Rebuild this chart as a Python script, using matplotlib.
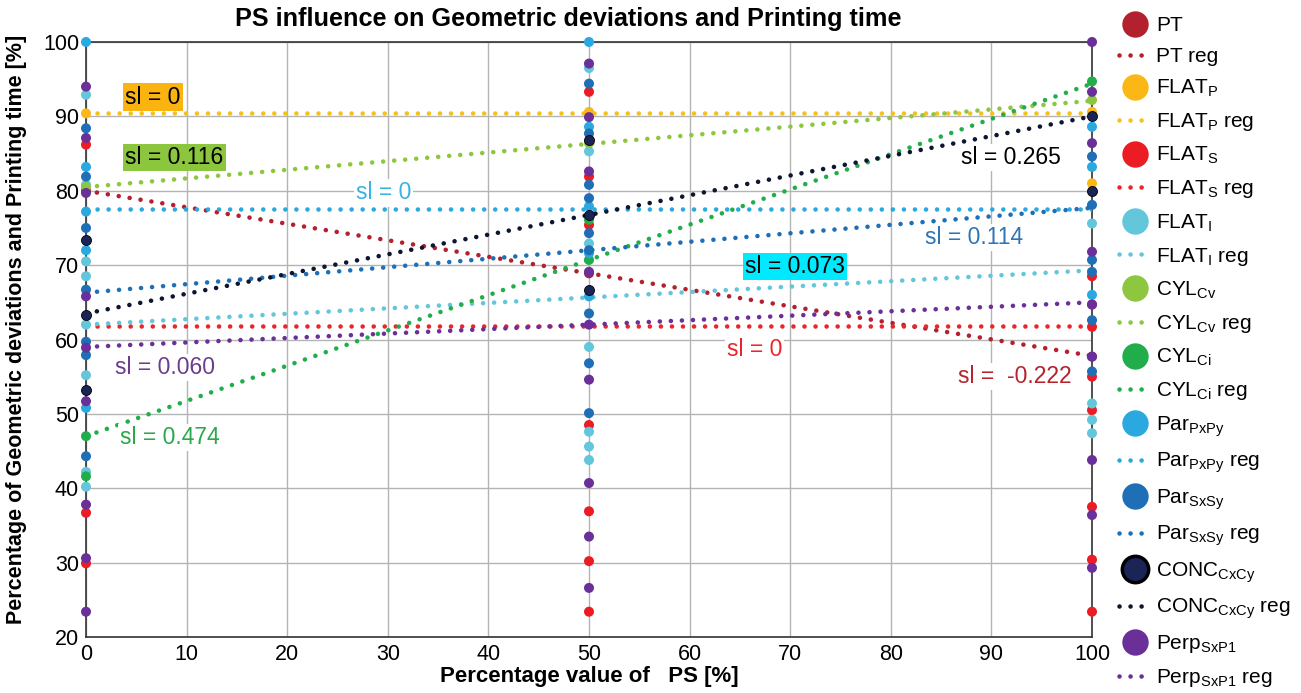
import matplotlib.pyplot as plt
from matplotlib.lines import Line2D
import numpy as np

plt.rcParams['font.family'] = ['Liberation Sans', 'DejaVu Sans']
plt.rcParams['mathtext.fontset'] = 'custom'
plt.rcParams['mathtext.rm'] = 'Liberation Sans'
plt.rcParams['mathtext.it'] = 'Liberation Sans:italic'
plt.rcParams['mathtext.bf'] = 'Liberation Sans:bold'

# PS levels [%]
ps_levels = [0, 50, 100]

pt_vals = [[80.0], [68.9], [57.7]]
flat_p_vals = [[90.4], [90.6], [90.6, 81.0]]
flat_s_vals = [[86.2, 36.7, 29.9], [93.3, 81.9, 75.4, 48.5, 36.9, 30.2, 23.4],
               [68.5, 64.7, 61.7, 55.0, 50.5, 37.5, 30.4, 23.4]]
flat_i_vals = [[92.9, 80.8, 70.5, 68.5, 62.0, 55.2, 42.2, 40.2],
               [96.5, 85.3, 72.9, 59.0, 47.6, 45.6, 43.8],
               [75.6, 51.4, 49.2, 47.4]]
cyl_cv_vals = [[80.5], [86.4], [92.2]]
cyl_ci_vals = [[47.0, 41.6], [70.7, 76.1], [94.7]]
par_pxpy_vals = [[100.0, 83.2, 77.2, 72.0, 50.8], [100.0, 88.6, 77.9, 71.6, 65.8],
                 [88.6, 83.2, 66.0]]
par_sxsy_vals = [[88.4, 81.9, 75.0, 66.7, 59.7, 57.9, 44.3],
                 [94.4, 87.7, 80.8, 79.0, 74.3, 72.0, 63.5, 56.8, 50.1],
                 [84.6, 78.1, 70.7, 69.1, 62.6, 55.7]]
conc_vals = [[73.4, 63.3, 53.2], [86.8, 76.7, 66.7], [90.0, 79.9]]
perp_vals = [[94.0, 87.1, 79.7, 65.8, 58.9, 51.7, 37.8, 30.6, 23.4],
             [97.1, 89.9, 82.6, 69.1, 62.0, 54.6, 40.7, 33.5, 26.6],
             [100.0, 93.3, 86.4, 71.8, 64.7, 57.7, 43.8, 36.4, 29.3]]

# regression lines (intercept at PS=0, slope per % PS)
reg_intercepts = [80.0, 90.5, 61.8, 62.0, 80.5, 47.0, 77.5, 66.3, 63.5, 59.0]
reg_slopes = [-0.222, 0.0, 0.0, 0.073, 0.116, 0.474, 0.0, 0.114, 0.265, 0.060]

labels = ['PT', 'FLAT$_\\mathrm{P}$', 'FLAT$_\\mathrm{S}$', 'FLAT$_\\mathrm{I}$',
          'CYL$_\\mathrm{Cv}$', 'CYL$_\\mathrm{Ci}$', 'Par$_\\mathrm{PxPy}$',
          'Par$_\\mathrm{SxSy}$', 'CONC$_\\mathrm{CxCy}$', 'Perp$_\\mathrm{SxP1}$']
colors = ['#b3202e', '#fbb715', '#ec1c24', '#63c6db', '#8dc63f', '#22ad4b',
          '#29a9e0', '#1f6fb7', '#1a2456', '#6a2f98']
reg_colors = ['#b3202e', '#f5c21b', '#e8262b', '#63c6db', '#8dc63f', '#22ad4b',
              '#29a9e0', '#1f6fb7', '#0d1530', '#6a2f98']
values = [pt_vals, flat_p_vals, flat_s_vals, flat_i_vals, cyl_cv_vals, cyl_ci_vals,
          par_pxpy_vals, par_sxsy_vals, conc_vals, perp_vals]

# slope annotations: text, x, y, text colour, box colour
sl_texts = ['sl = 0', 'sl = 0.116', 'sl = 0', 'sl = 0.265', 'sl = 0.114',
            'sl = 0.073', 'sl = 0', 'sl =  -0.222', 'sl = 0.060', 'sl = 0.474']
sl_x = [3.9, 3.9, 26.8, 87.0, 83.4, 65.5, 63.7, 86.7, 2.9, 3.4]
sl_y = [92.6, 84.5, 79.7, 84.5, 73.7, 69.8, 58.7, 55.0, 56.2, 46.8]
sl_colors = ['black', 'black', '#3ab3e3', 'black', '#2e75b6', 'black',
             '#e8262b', '#b5232e', '#6a3d8f', '#2aa84a']
sl_boxes = ['#fbb40f', '#8cc63e', 'white', 'white', 'white', '#00eaff',
            'white', 'white', 'white', 'white']

fig = plt.figure(figsize=(13.01, 6.93), dpi=100)
ax = fig.add_axes([86 / 1301, 56 / 693, 1006 / 1301, 595 / 693])

dot_style = dict(linestyle=(0, (0.01, 2.4)), linewidth=3.3, dash_capstyle='round')
xs = np.array([0, 100])

handles = []
legend_labels = []
for i, name in enumerate(labels):
    ax.plot(xs, reg_intercepts[i] + reg_slopes[i] * xs, color=reg_colors[i],
            zorder=3, **dot_style)
for i, name in enumerate(labels):
    for lvl, vals in zip(ps_levels, values[i]):
        ax.scatter([lvl] * len(vals), vals, s=52, color=colors[i],
                   edgecolors='black' if i == 8 else 'none', linewidths=0.6,
                   zorder=4, clip_on=False)
    handles.append(Line2D([], [], marker='o', linestyle='none', markersize=19,
                          markerfacecolor=colors[i],
                          markeredgecolor='black' if i == 8 else colors[i],
                          markeredgewidth=2.5 if i == 8 else 0))
    legend_labels.append(name)
    handles.append(Line2D([], [], color=reg_colors[i], **dot_style))
    legend_labels.append(name + ' reg')

for t, x, y, c, b in zip(sl_texts, sl_x, sl_y, sl_colors, sl_boxes):
    ax.text(x, y, t, color=c, fontsize=16.5, va='center', ha='left', zorder=6,
            bbox=dict(facecolor=b, edgecolor='none', pad=1.5))

ax.set_xlim(0, 100)
ax.set_ylim(20, 100)
ax.set_xticks(np.arange(0, 101, 10))
ax.set_yticks(np.arange(20, 101, 10))
ax.tick_params(length=0, labelsize=15.5, pad=5)
ax.grid(True, color='#b4b4b4', linewidth=1)
ax.set_axisbelow(True)
for sp in ax.spines.values():
    sp.set_color('#333333')
    sp.set_linewidth(1.2)

ax.set_xlabel('Percentage value of   PS [%]', fontsize=16, fontweight='bold', labelpad=1)
ax.set_ylabel('Percentage of Geometric deviations and Printing time [%]',
              fontsize=15.5, fontweight='bold')
ax.yaxis.set_label_coords(-0.0586, 0.517)
fig.text(568 / 1301, 1 - 19 / 693, 'PS influence on Geometric deviations and Printing time',
         fontsize=18.2, fontweight='bold', ha='center', va='center')

fig.legend(handles, legend_labels, loc='upper left', bbox_to_anchor=(1106 / 1301, 0.995),
           frameon=False, fontsize=15, handlelength=1.6, handletextpad=0.2,
           labelspacing=0.575, borderaxespad=0.2)

fig.savefig('out.png', dpi=100)
